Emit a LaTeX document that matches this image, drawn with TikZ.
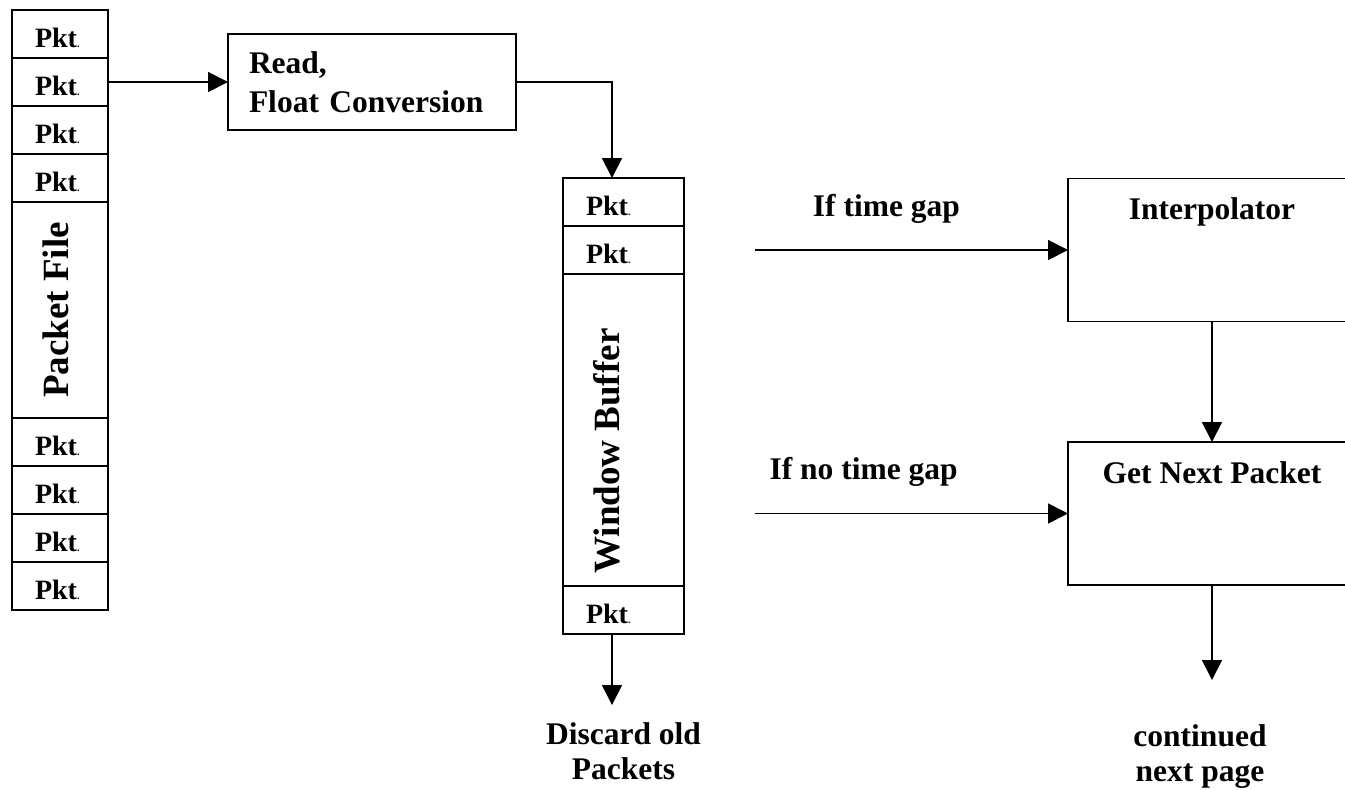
\documentclass[tikz,border=0pt]{standalone}
\usepackage{fontspec}
\setmainfont{Liberation Serif}
\usepackage{tikz}
\usetikzlibrary{positioning, arrows.meta}
\tikzset{
    >={Triangle[length=10pt, width=10pt]}, % big filled arrow heads
    cell/.style={draw, outer sep=0pt, inner ysep=0pt, inner xsep=11.5pt, minimum height=24pt,
        text height=13.5pt, text depth=0pt, align=left, font=\fontsize{14}{16}\selectfont\bfseries}, % one packet slot
    filecell/.style={cell, text width=25pt, minimum width=48pt},
    bufcell/.style={cell, text width=37.5pt, minimum width=60.5pt},
    body/.style={draw, outer sep=0pt, inner sep=0pt}, % tall middle part of a stack
    vlabel/.style={rotate=90, font=\fontsize{18.5}{20}\selectfont\bfseries}, % upright stack title
    proc/.style={draw, outer sep=0pt, inner ysep=0pt, minimum width=144pt, text height=20.5pt, text depth=51pt},
    lbl/.style={inner sep=3pt},
    endtext/.style={align=center, inner sep=0pt, anchor=north, font=\fontsize{15.75}{17.5}\selectfont\bfseries}
}
\newcommand{\pkt}{Pkt{\tiny.}}

\begin{document}
\begin{tikzpicture}[x=0.5pt, y=-0.5pt, line width=0.85pt,
    every node/.style={font=\fontsize{15.75}{19.5}\selectfont\bfseries}]
        \useasboundingbox (0,0) rectangle (1345,789);

        % packet file
        \node[filecell] (f1) at (60,34) {\pkt};
        \node[filecell] (f2) [below=0pt of f1] {\pkt};
        \node[filecell] (f3) [below=0pt of f2] {\pkt};
        \node[filecell] (f4) [below=0pt of f3] {\pkt};
        \node[body, minimum width=48pt, minimum height=108pt] (fbody) [below=0pt of f4] {};
        \node[filecell] (f5) [below=0pt of fbody] {\pkt};
        \node[filecell] (f6) [below=0pt of f5] {\pkt};
        \node[filecell] (f7) [below=0pt of f6] {\pkt};
        \node[filecell] (f8) [below=0pt of f7] {\pkt};
        \node[vlabel] (ftitle) at (56,310) {Packet File};

        \node[draw, outer sep=0pt, align=left, text width=123pt, inner xsep=10.5pt, minimum height=48pt]
            (read) at (372,82) {Read,\\Float Conversion};

        % window buffer
        \node[bufcell] (buf1) at (623.5,202) {\pkt};
        \node[bufcell] (buf2) [below=0pt of buf1] {\pkt};
        \node[body, minimum width=60.5pt, minimum height=156pt] (bufbody) [below=0pt of buf2] {};
        \node[bufcell] (buf3) [below=0pt of bufbody] {\pkt};
        \node[vlabel] (buftitle) at (607,451) {Window Buffer};

        \node[proc] (interp) at (1212,250) {Interpolator};
        \node[proc] (getnext) at (1212,513.5) {Get Next Packet};

        \node[endtext] (discard) at (623.5,722) {Discard old\\Packets};
        \node[endtext] (cont) at (1200,724) {continued\\next page};

        \coordinate (gapin) at (755,250);
        \coordinate (nogapin) at (755,513.5);
        \coordinate (dropend) at (612,705);
        \coordinate (contend) at (1212,680);

        \draw[->] (f2) -- (read);
        \draw[->] (read.east) -| ([xshift=-5.75pt]buf1.north);
        \draw[->] ([xshift=-5.75pt]buf3.south) -- (dropend);

        \draw[->] (gapin) -- node[lbl, above=10pt, pos=0.42] {If time gap} (interp);
        \draw[->] (nogapin) -- node[lbl, above=10pt, pos=0.347] {If no time gap} (getnext);
        \draw[->] (interp) -- (getnext);
        \draw[->] (getnext) -- (contend);
    \end{tikzpicture}
\end{document}
